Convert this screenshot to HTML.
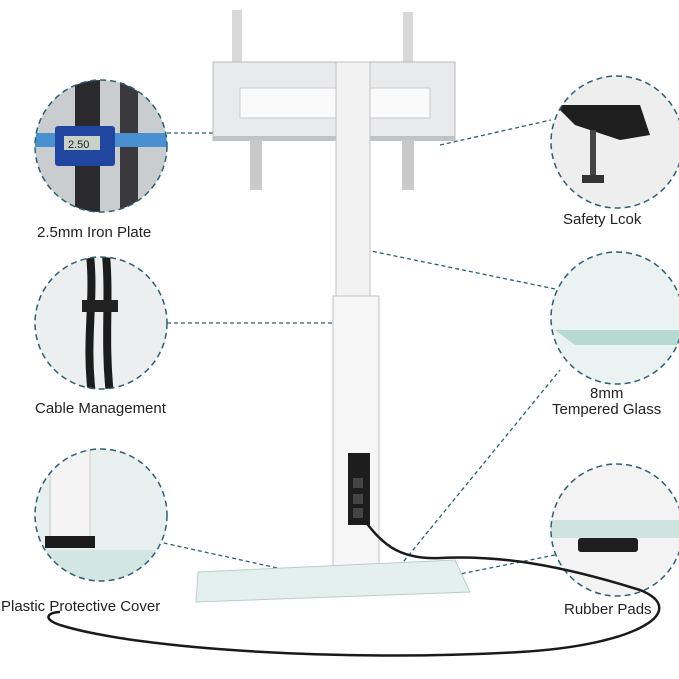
<!DOCTYPE html>
<html><head><style>
html,body{margin:0;padding:0;background:#fff;}
svg{display:block}
text{font-family:"Liberation Sans",sans-serif;font-size:15px;fill:#222}
</style></head><body>
<svg width="679" height="679" viewBox="0 0 679 679">
<defs>
<clipPath id="c1"><circle cx="101" cy="146" r="66"/></clipPath>
<clipPath id="c2"><circle cx="101" cy="323" r="66"/></clipPath>
<clipPath id="c3"><circle cx="101" cy="515" r="66"/></clipPath>
<clipPath id="c4"><circle cx="617" cy="142" r="66"/></clipPath>
<clipPath id="c5"><circle cx="617" cy="318" r="66"/></clipPath>
<clipPath id="c6"><circle cx="617" cy="530" r="66"/></clipPath>
</defs>
<g stroke="#2d5f70" stroke-width="1.3" stroke-dasharray="4,3" fill="none">
<line x1="167" y1="133" x2="258" y2="133"/>
<line x1="440" y1="145" x2="551" y2="120"/>
<line x1="167" y1="323" x2="340" y2="323"/>
<line x1="366" y1="250" x2="560" y2="290"/>
<line x1="150" y1="540" x2="355" y2="585"/>
<line x1="395" y1="572" x2="560" y2="370"/>
<line x1="455" y1="575" x2="555" y2="555"/>
</g>
<g clip-path="url(#c1)"><rect x="30" y="75" width="140" height="140" fill="#c9cdd0"/>
<rect x="75" y="75" width="25" height="140" fill="#2a2a2e"/><rect x="120" y="75" width="18" height="140" fill="#3a3a3e"/>
<rect x="35" y="133" width="135" height="14" fill="#4a90d0"/><rect x="55" y="126" width="60" height="40" rx="3" fill="#2146a0"/>
<rect x="64" y="136" width="36" height="14" fill="#c7d3c8"/><text x="68" y="148" style="font-size:11px">2.50</text></g>
<circle cx="101" cy="146" r="66" fill="none" stroke="#2d5f70" stroke-width="1.5" stroke-dasharray="6,4"/>
<g clip-path="url(#c2)"><rect x="30" y="255" width="140" height="140" fill="#eceeef"/>
<path d="M90 255 C95 300 85 340 92 395" stroke="#1c1c1c" stroke-width="8" fill="none"/>
<path d="M106 255 C110 300 104 340 110 395" stroke="#1c1c1c" stroke-width="8" fill="none"/>
<rect x="82" y="300" width="36" height="12" fill="#222"/></g>
<circle cx="101" cy="323" r="66" fill="none" stroke="#2d5f70" stroke-width="1.5" stroke-dasharray="6,4"/>
<g clip-path="url(#c3)"><rect x="30" y="448" width="140" height="140" fill="#e8f0ef"/>
<rect x="50" y="448" width="40" height="90" fill="#f4f4f4" stroke="#ccc"/>
<rect x="45" y="536" width="50" height="12" fill="#1c1c1c"/><rect x="30" y="550" width="140" height="40" fill="#d4e6e4"/></g>
<circle cx="101" cy="515" r="66" fill="none" stroke="#2d5f70" stroke-width="1.5" stroke-dasharray="6,4"/>
<g clip-path="url(#c4)"><rect x="550" y="75" width="140" height="140" fill="#eeeeee"/>
<path d="M555 105 L640 105 L650 135 L620 140 L575 125 Z" fill="#1e1e1e"/>
<rect x="590" y="130" width="6" height="45" fill="#444"/><rect x="582" y="175" width="22" height="8" fill="#333"/></g>
<circle cx="617" cy="142" r="66" fill="none" stroke="#2d5f70" stroke-width="1.5" stroke-dasharray="6,4"/>
<g clip-path="url(#c5)"><rect x="550" y="250" width="140" height="140" fill="#eaf3f2"/>
<path d="M555 330 L679 330 L679 345 L575 345 Z" fill="#b8d8d4"/></g>
<circle cx="617" cy="318" r="66" fill="none" stroke="#2d5f70" stroke-width="1.5" stroke-dasharray="6,4"/>
<g clip-path="url(#c6)"><rect x="550" y="463" width="140" height="140" fill="#f3f3f3"/>
<rect x="550" y="520" width="140" height="18" fill="#cfe3df"/>
<rect x="578" y="538" width="60" height="14" rx="3" fill="#1e1e1e"/></g>
<circle cx="617" cy="530" r="66" fill="none" stroke="#2d5f70" stroke-width="1.5" stroke-dasharray="6,4"/>
<rect x="232" y="10" width="10" height="60" fill="#d8d8d8"/><rect x="403" y="12" width="10" height="58" fill="#d8d8d8"/>
<rect x="213" y="62" width="242" height="78" fill="#e9eaec" stroke="#bbb"/>
<rect x="240" y="88" width="190" height="30" fill="#fafafa" stroke="#ccc"/>
<rect x="213" y="136" width="242" height="5" fill="#bfc3c6"/>
<rect x="250" y="140" width="12" height="50" fill="#c9c9c9"/><rect x="402" y="140" width="12" height="50" fill="#c9c9c9"/>
<rect x="336" y="62" width="34" height="240" fill="#f2f2f2" stroke="#c2c2c2"/>
<rect x="333" y="296" width="46" height="296" fill="#f6f6f6" stroke="#c2c2c2"/>
<rect x="348" y="453" width="22" height="72" fill="#1d1d1d"/>
<rect x="353" y="478" width="10" height="10" fill="#444"/><rect x="353" y="494" width="10" height="10" fill="#444"/><rect x="353" y="508" width="10" height="10" fill="#444"/>
<path d="M198 572 L455 560 L470 592 L196 602 Z" fill="#e4f0ee" stroke="#b6cfcb"/>
<path d="M364 520 C380 540 395 560 440 558 C500 555 560 565 640 590 C690 610 640 645 520 652 C350 662 140 650 60 625 C40 618 50 612 60 612" stroke="#1a1a1a" stroke-width="2.5" fill="none"/>
<text x="37" y="237">2.5mm Iron Plate</text>
<text x="563" y="224">Safety Lcok</text>
<text x="35" y="413">Cable Management</text>
<text x="590" y="398">8mm</text>
<text x="552" y="414">Tempered Glass</text>
<text x="1" y="611">Plastic Protective Cover</text>
<text x="564" y="614">Rubber Pads</text>
</svg>
</body></html>
